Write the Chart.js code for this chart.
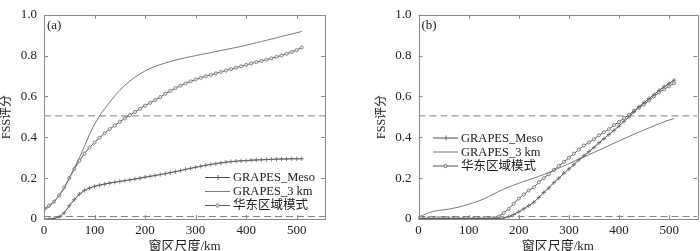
<!DOCTYPE html>
<html><head><meta charset="utf-8">
<script src="https://cdn.jsdelivr.net/npm/chart.js@4.4.1/dist/chart.umd.min.js"></script>
<style>
html,body{margin:0;padding:0;background:#fff;overflow:hidden;width:700px;height:251px;}
#wa{position:absolute;left:0;top:0;width:350px;height:251px;}
#wb{position:absolute;left:350px;top:0;width:352px;height:251px;}
</style></head><body>
<div id="wa"><canvas id="ca" width="350" height="251"></canvas></div>
<div id="wb"><canvas id="cb" width="352" height="251"></canvas></div>
<script>
// window size (km)
const winSize = [0,10,20,30,40,50,60,70,80,90,100,110,120,130,140,150,160,170,180,190,200,210,220,230,240,250,260,270,280,290,300,310,320,330,340,350,360,370,380,390,400,410,420,430,440,450,460,470,480,490,500,510];
const xTicks = [0,100,200,300,400,500];
const yTicks = [0,0.2,0.4,0.6,0.8,1.0];
const seriesNames = ["GRAPES_Meso","GRAPES_3 km","华东区域模式"];
// panel (a)
const mesoA = [0,0,0.003,0.01,0.03,0.065,0.095,0.122,0.14,0.152,0.16,0.166,0.171,0.176,0.18,0.184,0.188,0.192,0.196,0.2,0.205,0.209,0.213,0.218,0.222,0.227,0.232,0.237,0.243,0.248,0.253,0.258,0.263,0.267,0.271,0.275,0.278,0.281,0.283,0.285,0.286,0.288,0.289,0.29,0.291,0.292,0.293,0.294,0.294,0.295,0.295,0.295];
const g3kmA = [0.04,0.06,0.085,0.115,0.15,0.2,0.25,0.3,0.355,0.415,0.465,0.505,0.54,0.572,0.603,0.63,0.655,0.676,0.695,0.711,0.725,0.737,0.747,0.756,0.764,0.771,0.778,0.784,0.79,0.795,0.8,0.805,0.81,0.815,0.82,0.825,0.83,0.835,0.84,0.845,0.851,0.857,0.863,0.869,0.875,0.881,0.887,0.894,0.9,0.906,0.912,0.918];
const eastA = [0.05,0.065,0.085,0.115,0.155,0.2,0.245,0.285,0.32,0.35,0.375,0.398,0.42,0.44,0.458,0.476,0.493,0.509,0.524,0.54,0.555,0.569,0.583,0.597,0.613,0.627,0.641,0.653,0.664,0.674,0.683,0.691,0.699,0.706,0.713,0.72,0.727,0.734,0.741,0.748,0.755,0.762,0.768,0.774,0.78,0.787,0.794,0.801,0.809,0.818,0.827,0.84];
// panel (b)
const mesoB = [0.002,0.002,0.002,0.002,0.002,0.002,0.002,0.002,0.002,0.002,0.002,0.002,0.002,0.002,0.002,0.002,0.002,0.005,0.012,0.022,0.035,0.05,0.065,0.082,0.105,0.13,0.152,0.178,0.2,0.224,0.245,0.266,0.29,0.31,0.33,0.35,0.373,0.393,0.414,0.434,0.455,0.478,0.5,0.525,0.55,0.57,0.59,0.61,0.63,0.648,0.664,0.68];
const g3kmB = [0.01,0.02,0.03,0.038,0.042,0.045,0.048,0.053,0.058,0.065,0.072,0.08,0.088,0.098,0.11,0.122,0.135,0.146,0.157,0.166,0.175,0.184,0.192,0.2,0.209,0.218,0.228,0.238,0.249,0.26,0.271,0.282,0.293,0.304,0.315,0.326,0.337,0.348,0.36,0.371,0.382,0.393,0.404,0.415,0.426,0.436,0.446,0.456,0.466,0.476,0.485,0.492];
const eastB = [0.003,0.003,0.003,0.003,0.003,0.003,0.003,0.003,0.003,0.003,0.003,0.003,0.003,0.003,0.003,0.004,0.012,0.03,0.05,0.075,0.1,0.12,0.14,0.155,0.18,0.2,0.22,0.24,0.26,0.28,0.3,0.32,0.34,0.36,0.375,0.39,0.41,0.425,0.44,0.46,0.475,0.495,0.51,0.53,0.545,0.56,0.58,0.6,0.62,0.635,0.65,0.665];
// reference thresholds (dashed lines)
const usefulLevel = [0.505, 0.505];
const baseLevel = [0.012, 0.012];
const refX = [0, 556];
const xMax = 556;

const FONT = "'Liberation Serif','Noto Sans CJK SC',serif";
const toXY = (xs, ys) => xs.map((x,i)=>({x:x,y:ys[i]}));

const styles = [
  {borderColor:'#4a4a4a', borderWidth:1, pointStyle:'cross', pointRadius:2.2, pointBorderColor:'#666', pointBorderWidth:0.8, pointBackgroundColor:'#666'},
  {borderColor:'#7a7a7a', borderWidth:1, pointRadius:0},
  {borderColor:'#555', borderWidth:1, pointStyle:'circle', pointRadius:1.6, pointBorderColor:'#777', pointBorderWidth:0.8, pointBackgroundColor:'#e4e4e4'}
];

function makeDatasets(meso, g3, east){
  const d = [meso, g3, east].map((arr,i)=>Object.assign({label:seriesNames[i], data:toXY(winSize, arr), tension:0, fill:false}, styles[i]));
  d.push({label:'_u', data:toXY(refX, usefulLevel), borderColor:'#808080', borderWidth:1, borderDash:[7,4], pointRadius:0});
  d.push({label:'_b', data:toXY(refX, baseLevel), borderColor:'#808080', borderWidth:1, borderDash:[7,4], pointRadius:0});
  return d;
}

const framePlugin = {
  id:'frame',
  afterDatasetsDraw(chart, args, opts){
    const ctx = chart.ctx, a = chart.chartArea, xs = chart.scales.x, ys = chart.scales.y;
    ctx.save();
    ctx.strokeStyle = '#8a8a8a'; ctx.lineWidth = 1;
    ctx.strokeRect(Math.round(a.left)+0.5, Math.round(a.top)+0.5, Math.round(a.right-a.left), Math.round(a.bottom-a.top));
    const L = 4;
    ctx.beginPath();
    xTicks.forEach(v=>{ const p = Math.round(xs.getPixelForValue(v))+0.5;
      ctx.moveTo(p, a.bottom); ctx.lineTo(p, a.bottom-L);
      ctx.moveTo(p, a.top); ctx.lineTo(p, a.top+L); });
    yTicks.forEach(v=>{ const p = Math.round(ys.getPixelForValue(v))+0.5;
      ctx.moveTo(a.left, p); ctx.lineTo(a.left+L, p);
      ctx.moveTo(a.right, p); ctx.lineTo(a.right-L, p); });
    ctx.stroke();
    // panel label
    ctx.fillStyle = '#222'; ctx.font = "13px "+FONT; ctx.textBaseline = 'middle'; ctx.textAlign='left';
    ctx.fillText(opts.panel, a.left+3, a.top+11);
    // legend
    const lg = opts.legend;
    ctx.font = "12.5px "+FONT;
    seriesNames.forEach((name,i)=>{
      const y = lg.y + i*lg.dy, st = styles[i];
      ctx.strokeStyle = st.borderColor; ctx.lineWidth = 1; ctx.setLineDash([]);
      ctx.beginPath(); ctx.moveTo(lg.x, y+0.5); ctx.lineTo(lg.x+lg.w, y+0.5); ctx.stroke();
      const mx = lg.x + lg.w/2;
      if (st.pointStyle === 'cross'){
        ctx.strokeStyle = st.pointBorderColor;
        ctx.beginPath(); ctx.moveTo(mx+0.5, y-2); ctx.lineTo(mx+0.5, y+3); ctx.stroke();
      } else if (st.pointStyle === 'circle'){
        ctx.beginPath(); ctx.arc(mx, y+0.5, 1.6, 0, Math.PI*2);
        ctx.fillStyle = st.pointBackgroundColor; ctx.fill(); ctx.strokeStyle = st.pointBorderColor; ctx.stroke();
      }
      ctx.fillStyle = '#222';
      ctx.fillText(name, lg.x + lg.w + 3, y+1);
    });
    ctx.restore();
  }
};

function makeChart(id, datasets, padLeft, padRight, panel, legend){
  return new Chart(document.getElementById(id), {
    type:'line',
    data:{datasets:datasets},
    plugins:[framePlugin],
    options:{
      responsive:false, animation:false, devicePixelRatio:1,
      layout:{padding:{left:padLeft, right:padRight, top:5, bottom:0}},
      plugins:{legend:{display:false}, tooltip:{enabled:false}, frame:{panel:panel, legend:legend}},
      scales:{
        x:{type:'linear', min:0, max:xMax,
          afterBuildTicks(s){ s.ticks = xTicks.map(v=>({value:v})); },
          afterFit(s){ s.height = 32; },
          grid:{display:false, drawTicks:false}, border:{display:false},
          ticks:{padding:4, color:'#222', font:{family:FONT, size:13}, maxRotation:0, callback:v=>String(v)},
          title:{display:true, text:'窗区尺度/km', color:'#222', font:{family:FONT, size:13}, padding:{top:0,bottom:-3}}
        },
        y:{min:0, max:1,
          afterBuildTicks(s){ s.ticks = yTicks.map(v=>({value:v})); },
          afterFit(s){ s.width = 44; },
          grid:{display:false, drawTicks:false}, border:{display:false},
          ticks:{padding:7, color:'#222', font:{family:FONT, size:13}, callback:v=> v===0 ? '0' : v.toFixed(1)},
          title:{display:true, text:'FSS评分', color:'#222', font:{family:FONT, size:12}, padding:{top:0,bottom:0}}
        }
      }
    }
  });
}

makeChart('ca', makeDatasets(mesoA, g3kmA, eastA), 0, 25, '(a)', {x:205, y:177, dy:14, w:25});
makeChart('cb', makeDatasets(mesoB, g3kmB, eastB), 24.5, 2, '(b)', {x:83, y:137.5, dy:14, w:25});
</script>
</body></html>
